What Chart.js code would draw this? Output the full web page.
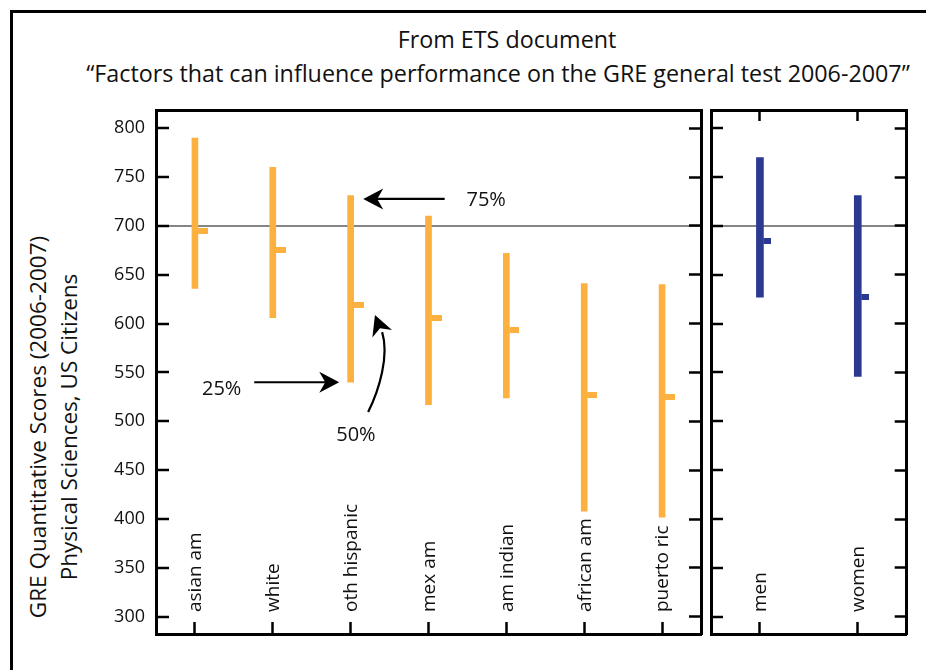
<!DOCTYPE html>
<html>
<head>
<meta charset="utf-8">
<script src="https://cdn.jsdelivr.net/npm/chart.js@4/dist/chart.umd.min.js"></script>
<style>
html,body{margin:0;padding:0;background:#fff;}
body{width:926px;height:670px;overflow:hidden;position:relative;font-family:"Open Sans",sans-serif;color:#111;}
#frame{position:absolute;left:9.5px;top:10px;width:1000px;height:800px;border:3px solid #000;box-sizing:border-box;}
.t{position:absolute;white-space:nowrap;font-size:23.3px;line-height:24px;text-align:center;}
.rot{position:absolute;white-space:nowrap;font-size:22.5px;line-height:24px;transform:translate(-50%,-50%) rotate(-90deg);}
#cL{position:absolute;left:0;top:0;}
#cR{position:absolute;left:706px;top:0;}
</style>
</head>
<body>
<div id="frame"></div>
<div class="t" style="left:7px;width:1000px;top:26.5px;">From ETS document</div>
<div class="t" style="left:-2px;width:1000px;top:60.5px;">“Factors that can influence performance on the GRE general test 2006-2007”</div>
<div class="rot" style="left:38px;top:427px;">GRE Quantitative Scores (2006-2007)</div>
<div class="rot" style="left:69px;top:427px;">Physical Sciences, US Citizens</div>
<canvas id="cL" width="706" height="670" style="width:706px;height:670px"></canvas>
<canvas id="cR" width="220" height="670" style="width:220px;height:670px"></canvas>
<script>
// ---- data ----
const groups = ['asian am', 'white', 'oth hispanic', 'mex am', 'am indian', 'african am', 'puerto ric'];
const groupQ1 = [636, 606, 540, 517, 524, 408, 402];
const groupMedian = [695, 675, 619, 606, 594, 527, 525];
const groupQ3 = [790, 760, 731, 710, 672, 641, 640];

const genders = ['men', 'women'];
const genderQ1 = [627, 546];
const genderMedian = [685, 627];
const genderQ3 = [770, 731];

const yTicks = [300, 350, 400, 450, 500, 550, 600, 650, 700, 750, 800];
const yMin = 282.3, yMax = 818.7;
const refLine = 700;

const annotLabels = {q3: '75%', q1: '25%', median: '50%'};
const annotIndex = 2; // oth hispanic

// ---- styles ----
const ORANGE = '#FBB040';
const BLUE = '#2B3990';
const FONT = '"Open Sans", sans-serif';

function stubImage(halfBar, len, h, color) {
  const c = document.createElement('canvas');
  c.width = Math.round(2 * (halfBar + len));
  c.height = h;
  const g = c.getContext('2d');
  g.fillStyle = color;
  g.fillRect(c.width / 2 + halfBar, 0, len, h);
  return c;
}

const catLabelPlugin = {
  id: 'catLabels',
  afterDatasetsDraw(chart) {
    const xs = chart.scales.x, ctx = chart.ctx;
    ctx.save();
    ctx.font = '19px ' + FONT;
    ctx.fillStyle = '#111';
    ctx.textAlign = 'left';
    ctx.textBaseline = 'middle';
    chart.data.labels.forEach((lab, i) => {
      const x = xs.getPixelForValue(i);
      ctx.save();
      ctx.translate(x + 1, chart.chartArea.bottom - 22);
      ctx.rotate(-Math.PI / 2);
      ctx.fillText(lab, 0, 0);
      ctx.restore();
    });
    ctx.restore();
  }
};

function arrowHead(ctx, tx, ty, dx, dy, len, half) {
  const m = Math.hypot(dx, dy); dx /= m; dy /= m;
  const nx = -dy, ny = dx;
  ctx.beginPath();
  ctx.moveTo(tx, ty);
  ctx.lineTo(tx - dx * len + nx * half, ty - dy * len + ny * half);
  ctx.lineTo(tx - dx * len * 0.7, ty - dy * len * 0.7);
  ctx.lineTo(tx - dx * len - nx * half, ty - dy * len - ny * half);
  ctx.closePath();
  ctx.fill();
}

const annotPlugin = {
  id: 'annot',
  afterDatasetsDraw(chart) {
    const ctx = chart.ctx, xs = chart.scales.x, ys = chart.scales.y;
    const cx = xs.getPixelForValue(annotIndex);
    const y3 = ys.getPixelForValue(groupQ3[annotIndex]);
    const y1 = ys.getPixelForValue(groupQ1[annotIndex]);
    const ym = ys.getPixelForValue(groupMedian[annotIndex]);
    ctx.save();
    ctx.strokeStyle = '#000'; ctx.fillStyle = '#000'; ctx.lineWidth = 2.2;
    ctx.font = '20px ' + FONT; ctx.textAlign = 'center'; ctx.textBaseline = 'alphabetic';
    // 75%
    const a3y = y3 + 3.3;
    ctx.beginPath(); ctx.moveTo(cx + 94, a3y); ctx.lineTo(cx + 25, a3y); ctx.stroke();
    arrowHead(ctx, cx + 12.6, a3y, -1, 0, 20, 10.5);
    ctx.fillStyle = '#111';
    ctx.fillText(annotLabels.q3, cx + 135.5, a3y + 7);
    // 25%
    ctx.fillStyle = '#000';
    ctx.beginPath(); ctx.moveTo(cx - 96.4, y1); ctx.lineTo(cx - 25, y1); ctx.stroke();
    arrowHead(ctx, cx - 11.4, y1, 1, 0, 20, 10.5);
    ctx.fillStyle = '#111';
    ctx.fillText(annotLabels.q1, cx - 129, y1 + 12.6);
    // 50% curved
    ctx.fillStyle = '#000';
    ctx.beginPath();
    ctx.moveTo(cx + 17.5, ym + 107);
    ctx.bezierCurveTo(cx + 29, ym + 84, cx + 38.6, ym + 50, cx + 31.5, ym + 27);
    ctx.stroke();
    arrowHead(ctx, cx + 24.3, ym + 10, -7, -18, 20, 10.5);
    ctx.fillStyle = '#111';
    ctx.fillText(annotLabels.median, cx + 5.3, ym + 136);
    ctx.restore();
  }
};

function yAxis(position, opts) {
  return Object.assign({
    type: 'linear', position, min: yMin, max: yMax,
    afterBuildTicks: s => { s.ticks = yTicks.map(v => ({value: v})); },
    afterFit: s => { s.width = 0; },
    ticks: {display: false},
    border: {display: true, color: '#000', width: 3},
    grid: {drawOnChartArea: false, drawTicks: true, tickLength: -12, tickWidth: 2.5, tickColor: '#000', color: '#000'}
  }, opts || {});
}

function xAxis(position, labels, tickLen, showTicks) {
  return {
    type: 'category', position, labels, offset: true,
    afterFit: s => { s.height = position === 'bottom' ? 36 : 0; },
    ticks: {display: false},
    border: {display: true, color: '#000', width: 3},
    grid: {display: showTicks, offset: false, drawOnChartArea: false, drawTicks: true, tickLength: tickLen, tickWidth: 2.5, tickColor: '#000', color: '#000'}
  };
}

const refGrid = {
  drawOnChartArea: true, drawTicks: true, tickLength: -13, tickWidth: 2.5, tickColor: '#000',
  lineWidth: 2,
  color: c => (c.tick && c.tick.value === refLine) ? '#858585' : 'rgba(0,0,0,0)'
};

Chart.defaults.font.family = FONT;
Chart.defaults.color = '#111';

new Chart(document.getElementById('cL'), {
  type: 'bar',
  data: {
    labels: groups,
    datasets: [
      {
        type: 'line', label: 'median', data: groupMedian, showLine: false,
        pointStyle: stubImage(3, 10, 6, ORANGE), pointRadius: 3, xAxisID: 'x', yAxisID: 'y'
      },
      {
        label: 'interquartile', data: groups.map((g, i) => [groupQ1[i], groupQ3[i]]),
        backgroundColor: ORANGE, borderWidth: 0, barThickness: 6, xAxisID: 'x', yAxisID: 'y'
      }
    ]
  },
  options: {
    responsive: false, animation: false, events: [],
    layout: {padding: {top: 110, left: 0, right: 4.3, bottom: 0}},
    plugins: {legend: {display: false}, tooltip: {enabled: false}},
    scales: {
      x: xAxis('bottom', groups, -12, true),
      xTop: xAxis('top', groups, -12, false),
      y: yAxis('left', {
        afterFit: s => { s.width = 156; },
        ticks: {display: true, padding: 24, font: {size: 18}, color: '#111'},
        grid: Object.assign({}, refGrid, {tickLength: -13})
      }),
      yRight: yAxis('right')
    }
  },
  plugins: [catLabelPlugin, annotPlugin]
});

new Chart(document.getElementById('cR'), {
  type: 'bar',
  data: {
    labels: genders,
    datasets: [
      {
        type: 'line', label: 'median', data: genderMedian, showLine: false,
        pointStyle: stubImage(3.5, 8, 6, BLUE), pointRadius: 3, xAxisID: 'x', yAxisID: 'y'
      },
      {
        label: 'interquartile', data: genders.map((g, i) => [genderQ1[i], genderQ3[i]]),
        backgroundColor: BLUE, borderWidth: 0, barThickness: 7, xAxisID: 'x', yAxisID: 'y'
      }
    ]
  },
  options: {
    responsive: false, animation: false, events: [],
    layout: {padding: {top: 110, left: 5, right: 19.3, bottom: 0}},
    plugins: {legend: {display: false}, tooltip: {enabled: false}},
    scales: {
      x: xAxis('bottom', genders, -12, true),
      xTop: xAxis('top', genders, -11, true),
      y: yAxis('left', {grid: Object.assign({}, refGrid, {tickLength: -12})}),
      yRight: yAxis('right')
    }
  },
  plugins: [catLabelPlugin]
});
</script>
</body>
</html>
